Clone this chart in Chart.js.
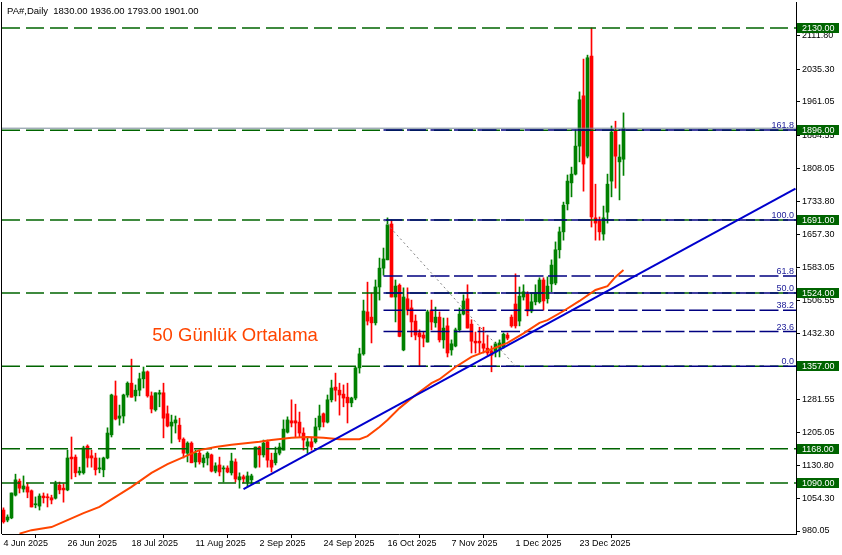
<!DOCTYPE html>
<html>
<head>
<meta charset="utf-8">
<script src="https://cdn.jsdelivr.net/npm/chart.js@4/dist/chart.umd.min.js"></script>
<style>
  html, body { margin: 0; padding: 0; background: #fff; }
  canvas { display: block; }
</style>
</head>
<body>
<canvas id="chart" width="842" height="555"></canvas>
<script>
// daily candles, PA#, 4 Jun 2025 .. early Jan 2026
const opens = [1028,1005,1010,1062,1094,1076,1081,1072,1040,1037,
  1060,1058,1056,1055,1085,1078,1074,1149,1149,1113,
  1113,1174,1152,1147,1122,1120,1147,1200,1289,1238,
  1243,1291,1318,1289,1302,1328,1344,1289,1257,1293,
  1296,1248,1220,1227,1222,1190,1158,1181,1138,1158,
  1136,1147,1154,1117,1131,1122,1124,1113,1138,1097,
  1104,1092,1097,1126,1172,1154,1184,1142,1136,1158,
  1165,1206,1232,1232,1229,1204,1174,1184,1184,1218,
  1248,1229,1280,1309,1302,1293,1286,1273,1284,1353,
  1385,1481,1469,1456,1538,1581,1600,1682,1515,1542,
  1394,1511,1490,1460,1433,1428,1412,1485,1456,1469,
  1417,1449,1394,1403,1440,1476,1511,1453,1414,1414,
  1408,1398,1392,1389,1398,1401,1428,1469,1499,1460,
  1515,1522,1483,1504,1504,1554,1511,1545,1547,1623,
  1664,1728,1776,1796,1860,1975,1837,2066,1696,1689,
  1659,1709,1780,1895,1824,1830];
const highs = [1033,1017,1067,1110,1099,1106,1090,1074,1058,1065,
  1067,1065,1062,1094,1092,1088,1165,1195,1154,1126,
  1174,1177,1165,1158,1147,1149,1216,1293,1323,1268,
  1293,1321,1373,1314,1341,1355,1346,1298,1296,1302,
  1318,1266,1245,1243,1238,1193,1184,1184,1165,1165,
  1154,1161,1156,1136,1149,1129,1129,1158,1145,1113,
  1108,1115,1110,1172,1174,1188,1188,1158,1172,1181,
  1234,1241,1280,1270,1252,1216,1193,1193,1238,1268,
  1250,1291,1325,1341,1318,1314,1318,1286,1355,1398,
  1508,1549,1524,1554,1604,1627,1696,1691,1554,1545,
  1536,1536,1508,1474,1440,1435,1485,1508,1492,1481,
  1467,1467,1417,1444,1490,1520,1543,1463,1435,1446,
  1446,1428,1403,1412,1417,1433,1433,1474,1568,1538,
  1543,1527,1524,1543,1559,1559,1561,1600,1641,1675,
  1732,1794,1812,1897,1984,2059,2068,2130,1773,1698,
  1723,1796,1906,1917,1863,1936];
const lows = [998,1001,1008,1060,1067,1069,1056,1035,1033,1028,
  1044,1035,1042,1053,1065,1046,1072,1099,1104,1108,
  1110,1126,1126,1108,1113,1104,1145,1195,1234,1222,
  1227,1286,1286,1277,1289,1307,1286,1250,1254,1264,
  1193,1218,1181,1204,1184,1147,1138,1136,1126,1133,
  1126,1131,1115,1113,1106,1092,1113,1108,1092,1078,
  1090,1081,1088,1124,1126,1149,1126,1115,1131,1154,
  1165,1204,1218,1195,1195,1165,1158,1165,1181,1211,
  1218,1227,1275,1277,1245,1264,1227,1264,1280,1341,
  1382,1451,1410,1451,1508,1565,1600,1515,1458,1424,
  1392,1474,1424,1417,1357,1401,1412,1440,1446,1412,
  1398,1378,1382,1401,1435,1474,1444,1387,1387,1387,
  1387,1382,1344,1378,1378,1398,1417,1446,1444,1449,
  1508,1472,1479,1497,1501,1485,1501,1527,1543,1604,
  1645,1714,1744,1794,1824,1757,1833,1675,1645,1645,
  1645,1684,1744,1764,1737,1793];
const closes = [1001,1012,1067,1097,1078,1083,1069,1035,1042,1060,
  1056,1056,1051,1088,1074,1074,1147,1145,1113,1117,
  1170,1147,1147,1120,1124,1147,1204,1291,1236,1243,
  1291,1318,1286,1302,1328,1344,1289,1259,1296,1296,
  1238,1220,1229,1234,1190,1158,1181,1136,1158,1138,
  1147,1158,1117,1129,1115,1124,1115,1140,1099,1104,
  1099,1106,1106,1172,1154,1181,1142,1126,1158,1172,
  1213,1234,1227,1227,1204,1188,1184,1172,1218,1243,
  1229,1280,1307,1302,1291,1284,1273,1284,1353,1385,
  1483,1460,1456,1538,1581,1602,1680,1515,1540,1425,
  1515,1485,1458,1428,1424,1421,1481,1458,1469,1417,
  1444,1387,1408,1440,1476,1506,1444,1414,1410,1410,
  1398,1387,1382,1408,1410,1430,1421,1449,1449,1517,
  1527,1483,1504,1524,1554,1506,1540,1588,1623,1664,
  1725,1780,1796,1860,1966,1819,2062,1698,1684,1664,
  1696,1773,1892,1837,1835,1901];

// 50 day moving average, read at a few bars
const maIdx = [4,7,12,16,20,24,28,32,37,41,45,49,53,57,64,67,72,76,80,84,89,91,94,96,99,103,107,109,113,117,122,126,130,134,136,140,144,148,151,153,155];
const maVals = [974,982,989,1005,1021,1035,1058,1081,1113,1133,1149,1165,1172,1177,1184,1188,1193,1195,1193,1190,1190,1197,1218,1234,1261,1291,1318,1327,1355,1378,1396,1410,1432,1456,1462,1483,1506,1531,1540,1561,1577];

const dateTickIdx = [0,16,32,48,64,80,96,112,128,144];
const dateLabels = ["4 Jun 2025","26 Jun 2025","18 Jul 2025","11 Aug 2025","2 Sep 2025","24 Sep 2025","16 Oct 2025","7 Nov 2025","1 Dec 2025","23 Dec 2025"];
const priceTicks = [2111.80,2035.30,1961.05,1884.55,1808.05,1733.80,1657.30,1583.05,1506.55,1432.30,1358.05,1281.55,1205.05,1130.80,1054.30,980.05];

const levels = [2130,1896,1691,1524,1357,1168,1090];
const fibNames = ["161.8","100.0","61.8","50.0","38.2","23.6","0.0"];
const fibPrices = [1897,1691,1563,1524,1485,1436,1357];
const fibFrom = 95;
const swingIdx = [95,128];
const swingVals = [1691,1357];
const trendIdx = [60,198];
const trendVals = [1076,1763];
const bidPrice = 1901;

const X_MIN = -0.375, X_MAX = 198.125;
const Y_MIN = 973.2, Y_MAX = 2189.5;
const FONT = "'Liberation Sans', Arial, sans-serif";
const UP = '#008000', DOWN = '#ff0000';
const LEVEL_GREEN = '#006400', FIB_BLUE = '#000080';

const idx = opens.map((_, i) => i);
const candleColor = idx.map(i => closes[i] >= opens[i] ? UP : DOWN);

const flat = (p, from) => [{x: from, y: p}, {x: X_MAX, y: p}];

const datasets = [];
levels.forEach(p => datasets.push({
  type: 'line', data: flat(p, X_MIN), borderColor: LEVEL_GREEN, borderWidth: 1.5,
  borderDash: [18, 6], pointRadius: 0, order: 6
}));
datasets.push({
  type: 'line', data: flat(bidPrice, X_MIN), borderColor: '#778899', borderWidth: 1,
  pointRadius: 0, order: 5
});
fibPrices.forEach(p => datasets.push({
  type: 'line', data: flat(p, fibFrom), borderColor: FIB_BLUE, borderWidth: 1.5,
  borderDash: [19, 4.5], pointRadius: 0, order: 4
}));
datasets.push({
  type: 'line', data: swingIdx.map((v, k) => ({x: v, y: swingVals[k]})),
  borderColor: '#808080', borderWidth: 1, borderDash: [2, 3], pointRadius: 0, order: 3
});
datasets.push({
  type: 'line', data: maIdx.map((v, k) => ({x: v, y: maVals[k]})),
  borderColor: '#ff4500', borderWidth: 2, pointRadius: 0, tension: 0, order: 2
});
datasets.push({
  type: 'line', data: trendIdx.map((v, k) => ({x: v, y: trendVals[k]})),
  borderColor: '#0000cd', borderWidth: 2, pointRadius: 0, order: 1
});
// wicks then bodies
datasets.push({
  type: 'bar', data: idx.map(i => ({x: i, y: [lows[i], highs[i]]})),
  backgroundColor: candleColor, barThickness: 1, grouped: false, order: 11
});
datasets.push({
  type: 'bar', data: idx.map(i => ({x: i, y: [opens[i], closes[i]]})),
  backgroundColor: candleColor, barThickness: 3, grouped: false, minBarLength: 1, order: 10
});

const overlay = {
  id: 'overlay',
  beforeDraw(chart) {
    const ctx = chart.ctx;
    ctx.save();
    ctx.fillStyle = '#fff';
    ctx.fillRect(0, 0, chart.width, chart.height);
    ctx.restore();
  },
  afterDraw(chart) {
    const {ctx, chartArea: a, scales: {x, y}} = chart;
    ctx.save();
    ctx.strokeStyle = '#000';
    ctx.lineWidth = 1;
    ctx.beginPath();
    ctx.moveTo(a.left - 0.5, a.top);
    ctx.lineTo(a.left - 0.5, a.bottom);
    ctx.stroke();

    // fibo level names
    ctx.font = '9px ' + FONT;
    ctx.fillStyle = '#22229a';
    ctx.textAlign = 'right';
    ctx.textBaseline = 'alphabetic';
    fibPrices.forEach((p, k) => ctx.fillText(fibNames[k], a.right - 2, y.getPixelForValue(p) - 2));

    // price boxes on the axis
    levels.forEach(p => {
      const py = Math.round(y.getPixelForValue(p));
      ctx.fillStyle = LEVEL_GREEN;
      ctx.fillRect(a.right + 1, py - 5, 42, 10);
      ctx.fillStyle = '#fff';
      ctx.textAlign = 'left';
      ctx.textBaseline = 'middle';
      ctx.fillText(p.toFixed(2), a.right + 6, py + 0.5);
    });

    // title
    ctx.fillStyle = '#000';
    ctx.font = '9.5px ' + FONT;
    ctx.textAlign = 'left';
    ctx.textBaseline = 'alphabetic';
    ctx.fillText('PA#,Daily  1830.00 1936.00 1793.00 1901.00', 7, 14);

    // indicator caption
    ctx.fillStyle = '#ff4500';
    ctx.font = '18.5px ' + FONT;
    ctx.fillText('50 Günlük Ortalama', x.getPixelForValue(37.2), y.getPixelForValue(1414));
    ctx.restore();
  }
};

new Chart(document.getElementById('chart'), {
  type: 'bar',
  data: { datasets },
  options: {
    responsive: false,
    animation: false,
    layout: { padding: { left: 2, top: 2, right: 0, bottom: 0 } },
    plugins: { legend: { display: false }, tooltip: { enabled: false } },
    scales: {
      x: {
        type: 'linear', min: X_MIN, max: X_MAX, offset: false,
        grid: { drawOnChartArea: false, drawTicks: true, tickLength: 4, color: '#000' },
        border: { display: true, color: '#000' },
        afterBuildTicks: s => { s.ticks = dateTickIdx.map(v => ({value: v})); },
        ticks: {
          autoSkip: false, maxRotation: 0, minRotation: 0, align: 'start', padding: 0,
          color: '#000', font: { family: FONT, size: 9 },
          callback: (v, k) => dateLabels[k]
        },
        afterFit: s => { s.height = 21; s.paddingLeft = 0; s.paddingRight = 0; }
      },
      y: {
        position: 'right', min: Y_MIN, max: Y_MAX,
        grid: { drawOnChartArea: false, drawTicks: true, tickLength: 4, color: '#000' },
        border: { display: true, color: '#000' },
        afterBuildTicks: s => { s.ticks = priceTicks.map(v => ({value: v})); },
        ticks: {
          padding: 2, color: '#000', font: { family: FONT, size: 9 },
          callback: v => v.toFixed(2)
        },
        afterFit: s => { s.width = 46; s.paddingTop = 0; s.paddingBottom = 0; }
      }
    }
  },
  plugins: [overlay]
});
</script>
</body>
</html>
